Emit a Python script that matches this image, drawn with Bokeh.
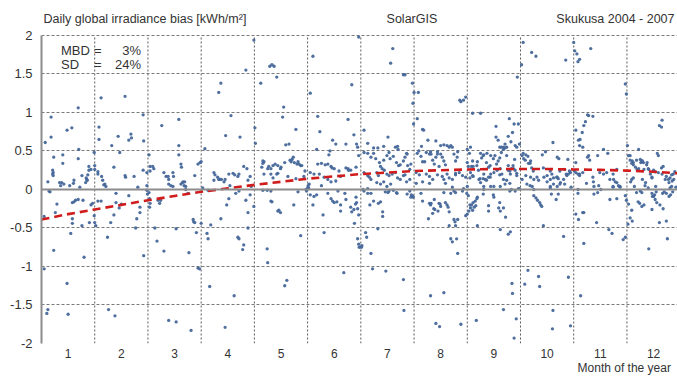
from bokeh.plotting import figure
from bokeh.models import Label, Span, FixedTicker, ColumnDataSource, LinearAxis
from bokeh.embed import file_html
from bokeh.resources import INLINE

# ---------------- data ----------------
month_ticks = [1, 2, 3, 4, 5, 6, 7, 8, 9, 10, 11, 12]
month_labels = ["1", "2", "3", "4", "5", "6", "7", "8", "9", "10", "11", "12"]
month_bounds = [1.5, 2.5, 3.5, 4.5, 5.5, 6.5, 7.5, 8.5, 9.5, 10.5, 11.5]
y_ticks = [-2, -1.5, -1, -0.5, 0, 0.5, 1, 1.5, 2]
y_tick_labels = ["-2", "-1.5", "-1", "-0.5", "0", "0.5", "1", "1.5", "2"]
x_title = "Month of the year"

pts_jan = [(0.57,0.61),(0.68,0.68),(0.68,0.94),(0.73,0.42),(0.71,0.25),(0.71,0.20),(0.62,0.10),(0.90,0.34),(0.90,0.45),(0.86,0.05),(0.92,0.07),(0.98,0.77),(1.07,0.80),(1.19,1.06),(1.19,0.40),(1.03,0.05),(1.10,0.08),(1.26,0.18),(1.35,0.13),(1.37,0.19),(1.43,0.26),(1.49,0.48),
           (0.72,0.22),(0.72,0.18),(0.84,0.09),(0.88,0.09),(1.11,0.12),(1.20,0.52),(1.34,0.15),(1.39,0.30),(1.39,0.25),
           (0.55,-1.03),(0.60,-1.61),(0.62,-1.56),(0.73,-0.79),(0.55,-0.35),(0.79,-0.19),(0.64,-0.02),(1.05,-0.57),(1.08,-0.44),(1.08,-0.17),(1.14,-0.14),(1.22,0.03),(1.26,-0.47),(1.30,-0.88),(1.28,-0.14),(0.98,-1.22),(1.00,-1.62),(1.33,0.09),(1.36,0.12),(1.43,-0.20),(1.46,-0.18),
           (0.66,-0.03),(1.11,-0.16),(1.19,-0.13),(0.76,-0.30),(1.08,-0.38),(1.40,-0.43)]
pts_feb = [(1.50,0.31),(1.50,0.26),(1.56,0.20),(1.56,0.23),(1.62,1.19),(1.58,0.81),(1.58,0.65),(1.63,0.17),(1.65,0.12),(1.69,0.07),(1.82,0.57),(1.86,0.29),(1.94,0.69),(2.07,1.21),(2.14,0.64),(2.18,0.72),(2.19,0.67),(1.97,0.48),(2.07,0.18),(2.08,0.16),(2.24,0.17),(2.41,0.97),(2.42,0.63),(2.31,0.03),(2.41,0.25),(2.48,0.22),
           (1.50,-0.43),(1.52,-0.47),(1.49,-0.34),(1.56,-0.15),(1.62,-0.15),(1.67,0.06),(1.71,0.04),(1.74,-0.62),(1.80,-0.43),(1.86,-0.33),(1.90,-0.05),(1.90,-0.17),(1.96,-0.24),(2.00,-0.19),(2.14,-0.08),(1.76,-1.56),(1.88,-1.64),(2.29,-0.38),(2.35,-0.23),(2.35,-0.30),(2.27,-0.50),(2.42,-0.86),(2.48,0.05),(2.48,-0.01),(2.49,-0.06)]
pts_mar = [(2.52,0.45),(2.54,0.30),(2.54,0.24),(2.59,0.30),(2.61,0.27),(2.76,0.83),(2.80,0.22),(2.84,0.17),(2.88,0.17),(2.89,0.13),(2.97,0.22),(2.98,0.17),(2.93,0.05),(3.08,0.91),(3.08,0.57),(3.08,0.45),(3.12,0.33),(3.13,0.29),(3.16,0.10),(3.19,0.10),(3.21,0.04),(3.38,0.18),(3.44,0.33),(3.48,0.35),
           (2.52,-0.04),(2.53,-0.12),(2.54,-0.18),(2.53,-0.23),(2.63,-0.50),(2.67,-0.67),(2.69,-0.14),(2.72,-0.18),(2.80,-0.80),(2.74,-0.14),(2.89,-1.70),(3.03,-1.72),(2.89,0.07),(2.97,0.04),(3.03,-0.51),(3.12,0.07),(3.15,0.09),(3.18,0.05),(3.21,0.00),(3.25,-0.05),(3.27,-0.82),(3.31,-1.83),(3.35,-0.39),(3.36,-0.42),(3.38,-0.43),(3.41,-0.56),(3.44,-1.02),(3.47,-1.03),(3.50,-0.44)]
pts_apr = [(3.50,0.36),(3.57,0.53),(3.74,0.22),(3.76,0.19),(3.81,0.16),(3.83,0.13),(3.85,0.13),(3.88,0.13),(3.83,1.26),(3.87,1.38),(3.93,0.10),(3.95,0.13),(3.96,0.70),(4.02,0.20),(4.06,0.96),(4.10,0.21),(4.13,0.19),(4.19,0.17),(4.23,0.68),(4.21,0.20),(4.30,0.30),(4.36,0.27),(4.42,0.17),(4.38,0.12),(4.44,0.04),(4.34,1.55),(4.49,1.94),(4.51,0.80),(4.52,0.60),
           (3.53,0.02),(3.63,-0.01),(3.61,-0.57),(3.63,-0.64),(3.66,-1.26),(3.68,-0.46),(3.74,0.12),(3.87,-0.38),(3.95,-1.79),(3.98,-0.20),(4.02,-0.12),(4.04,0.05),(4.12,-1.38),(4.19,-0.62),(4.21,-0.02),(4.15,-0.05),(4.21,-0.64),(4.28,-0.78),(4.30,-0.72),(4.34,-0.14),(4.38,-0.50),(4.38,-0.30),(4.42,-0.07),(4.49,-0.22)]
pts_may = [(4.62,1.38),(4.79,1.60),(4.83,1.62),(4.87,1.60),(4.92,1.46),(5.03,0.94),(5.05,1.07),(5.28,0.78),(5.09,0.58),(5.15,0.59),(4.66,0.37),(4.68,0.36),(4.77,0.30),(4.81,0.27),(4.85,0.31),(4.94,0.31),(5.00,0.29),(4.64,0.29),(4.68,0.20),(5.19,0.36),(5.21,0.39),(5.23,0.42),(5.32,0.36),(5.34,0.33),(5.37,0.31),(5.39,0.31),(4.85,0.15),(4.92,0.20),
           (4.66,0.34),(4.75,0.27),(4.89,0.33),(4.99,0.27),(5.07,0.35),(5.17,0.38),(5.25,0.35),(5.30,0.33),(4.81,0.20),(4.94,0.21),(5.13,0.17),(5.28,0.14),(5.43,0.17),(5.45,0.24),
           (4.66,-0.01),(4.74,-0.01),(4.81,-0.02),(4.83,-0.16),(4.96,-0.27),(4.99,-0.30),(5.24,-0.20),(5.32,-0.03),(4.74,-0.77),(4.75,-0.95),(4.81,-0.15),(4.94,-0.28),(5.07,-1.25),(5.11,-1.18),(5.37,-0.60),(5.47,0.00),(5.48,-0.02),(5.50,0.02)]
pts_jun = [(5.60,1.73),(5.55,1.25),(5.69,0.95),(5.73,0.75),(5.97,0.64),(6.03,0.59),(6.22,0.59),(6.26,0.91),(6.33,1.36),(6.37,0.71),(6.42,0.59),(5.67,0.52),(5.92,0.50),(6.46,1.98),
           (5.69,0.33),(5.76,0.34),(5.83,0.32),(5.88,0.33),(5.94,0.30),(5.96,0.28),(5.90,0.45),(6.00,0.27),(6.09,0.24),(6.12,0.17),(6.22,0.28),(6.26,0.27),(6.27,0.25),(6.31,0.25),(6.41,0.29),(6.44,0.55),(6.46,0.44),(5.55,0.22),(5.62,0.20),(5.72,0.20),(5.81,0.16),(5.88,0.13),(5.94,0.10),(6.03,0.11),(5.53,0.07),(5.52,0.02),(5.51,0.05),
           (5.55,-0.07),(5.62,-0.09),(5.76,0.05),(5.88,-0.05),(5.94,-0.12),(5.97,-0.15),(6.00,-0.17),(6.07,-0.02),(6.12,-0.20),(6.22,-0.13),(6.31,-0.23),(6.33,-0.29),(6.41,-0.10),(6.42,-0.17),(6.44,-0.25),(6.46,-0.33),(6.38,-0.44),
           (5.60,-0.20),(5.67,-0.07),(5.79,-0.33),(5.81,-0.56),(6.05,-0.16),(6.12,-0.28),(6.18,-1.08),(6.20,-0.05),(6.37,-0.26),(6.40,-0.19),(6.44,-0.64),(6.46,-0.71),(6.47,-0.75)]
pts_jul = [(6.56,0.77),(6.63,0.60),(6.74,0.54),(6.82,0.54),(6.93,0.56),(7.01,0.68),(7.06,1.64),(7.10,1.83),(7.19,0.56),(7.20,0.52),(7.30,1.49),(7.33,1.49),(7.37,0.46),
           (6.56,0.48),(6.63,0.47),(6.69,0.42),(6.74,0.47),(6.78,0.40),(6.85,0.35),(6.87,0.30),(6.93,0.38),(6.99,0.44),(7.03,0.48),(7.05,0.40),(7.11,0.43),(7.15,0.55),(7.17,0.35),(7.21,0.31),(7.24,0.32),(7.30,0.37),(7.33,0.42),(7.36,0.47),(7.38,0.31),(7.42,0.26),(7.44,0.33),
           (6.56,0.22),(6.63,0.18),(6.66,0.16),(6.69,0.13),(6.80,0.22),(6.83,0.18),(6.90,0.27),(6.94,0.25),(6.99,0.20),(7.03,0.18),(7.09,0.20),(7.15,0.22),(7.19,0.15),(7.24,0.13),(7.30,0.18),(7.33,0.19),(7.36,0.10),(7.42,0.13),(6.80,0.09),(6.87,0.07),(6.93,0.10),(6.99,0.04),(7.06,0.07),
           (6.56,-0.02),(6.63,-0.05),(6.69,-0.05),(6.74,-0.15),(6.83,-0.18),(6.91,-0.29),(6.96,-0.03),(7.11,-0.01),(7.17,-0.04),(7.42,-0.02),(7.45,-0.07),(7.48,-0.09),
           (6.54,0.00),(6.63,0.01),(6.59,-0.56),(6.61,-0.62),(6.52,-0.73),(6.51,-0.75),(6.67,-0.20),(6.69,-0.83),(6.72,-1.03),(6.82,-0.51),(6.87,-0.16),(6.91,-0.35),(6.97,-1.06),(7.01,-0.04),(7.03,-0.02),(7.18,-0.05),(7.30,-1.17),(7.31,-1.57),(7.37,-0.06)]
pts_aug = [(7.47,1.38),(7.48,1.12),(7.50,1.26),(7.56,0.92),(7.58,1.26),(7.49,0.85),(7.66,0.78),(7.68,0.77),(7.76,0.64),(7.91,0.63),(8.00,0.57),(8.06,0.58),(8.12,0.57),(8.19,0.57),(7.64,0.56),(7.81,0.49),(7.94,0.49),(8.32,0.49),(8.36,1.16),(8.38,1.14),(8.43,1.16),(8.47,1.20),
           (7.56,0.47),(7.59,0.50),(7.63,0.43),(7.66,0.36),(7.70,0.36),(7.73,0.48),(7.79,0.46),(7.82,0.46),(7.85,0.38),(7.88,0.33),(7.91,0.42),(7.94,0.46),(7.97,0.30),(8.00,0.46),(8.03,0.42),(8.06,0.37),(8.09,0.32),(8.16,0.55),(8.22,0.55),(8.25,0.46),(8.28,0.37),(8.31,0.42),
           (7.54,0.22),(7.60,0.19),(7.73,0.20),(7.79,0.17),(7.85,0.13),(7.94,0.19),(8.03,0.17),(8.06,0.13),(8.12,0.20),(8.16,0.15),(8.22,0.13),(8.28,0.19),(7.54,0.08),(7.66,0.10),(7.79,0.08),(8.09,0.08),(8.28,0.21),(8.35,0.22),(8.41,0.18),(8.47,0.16),
           (7.63,-0.05),(7.66,-0.15),(7.79,-0.18),(7.82,-0.18),(7.85,-0.31),(7.88,-0.13),(7.97,-0.18),(8.00,-0.22),(8.09,-0.17),(8.12,-0.20),(8.16,-0.29),(8.25,-0.02),(8.28,-0.04),
           (7.44,-0.10),(7.48,-0.10),(7.77,-0.38),(7.81,-0.20),(7.87,-0.25),(7.89,-0.26),(7.95,-0.28),(7.99,-0.19),(8.06,-0.04),(8.14,-0.23),(8.16,-0.47),(8.19,-0.64),(8.22,-0.68),(8.25,-0.39),(8.28,-0.47),(8.32,-0.39),(7.81,-1.38),(7.91,-1.74),(7.98,-1.78),(8.06,-1.34),(8.19,-0.05),(8.22,0.03),
           (8.27,-0.42),(8.30,-0.64),(8.32,-0.83),(8.38,-1.75),(8.41,-0.02),(8.43,0.01)]
pts_sep = [(8.50,0.52),(8.56,0.55),(8.60,0.99),(8.75,0.99),(8.54,0.47),(8.50,0.35),(8.60,0.37),(8.69,0.36),(8.81,0.45),(8.87,0.47),(8.94,0.44),(8.75,0.47),(9.04,0.82),(9.04,0.68),(9.08,0.64),(9.11,0.55),(9.14,0.55),(9.18,0.55),(9.21,0.59),(9.24,0.55),(9.27,0.69),(9.29,0.92),(9.32,0.62),(9.35,0.74),(9.38,0.85),(9.40,0.57),(9.43,0.55),(9.46,0.85),(9.44,1.46),(9.48,0.59),
           (8.56,0.22),(8.60,0.18),(8.72,0.13),(8.75,0.09),(8.81,0.20),(8.84,0.13),(8.90,0.16),(8.94,0.20),(9.00,0.22),(9.06,0.25),(9.12,0.27),(9.15,0.20),(9.18,0.13),(9.21,0.07),(9.27,0.25),(9.31,0.20),(9.37,0.27),(9.40,0.25),(9.43,0.18),(9.12,0.04),(9.00,0.04),(8.94,0.04),(8.81,0.04),(8.50,0.04),
           (8.52,0.30),(8.58,0.30),(8.61,0.30),(8.68,0.31),(8.71,0.25),(8.77,0.41),(8.80,0.44),(8.86,0.35),(8.90,0.29),(8.93,0.31),(8.99,0.40),(9.02,0.44),(9.05,0.33),(9.08,0.37),(9.11,0.41),(9.14,0.48),(9.18,0.52),(9.21,0.54),(9.24,0.44),(9.27,0.31),(9.30,0.24),(9.33,0.27),(9.36,0.31),(9.39,0.39),(9.43,0.21),(8.55,0.15),(8.61,0.17),(8.74,0.14),(8.80,0.14),(8.86,0.12),(8.93,0.16),(9.11,0.19),(9.24,0.12),(9.30,0.08),
           (8.49,-0.05),(8.52,-0.08),(8.55,-0.20),(8.58,-0.20),(8.61,-0.17),(8.65,-0.15),(8.68,-0.12),(8.80,-0.06),(8.99,-0.07),(9.11,-0.17),(9.18,-0.24),(9.30,-0.02),(9.33,0.00),(9.40,-0.02),(8.90,-0.21),
           (8.47,-0.34),(8.50,-0.32),(8.53,-0.28),(8.56,-0.24),(8.60,-0.27),(8.63,-0.23),(8.66,-0.21),(8.69,-0.10),(8.69,-0.47),(8.67,-1.70),(8.81,0.00),(8.90,-0.28),(9.00,-0.10),(9.09,-0.24),(9.12,-0.28),(9.12,-0.52),(9.22,-0.36),(9.27,-0.58),(9.31,-0.55),(9.18,-1.56),(9.34,-1.22),(9.35,-1.35),(9.38,-1.93),(9.42,-1.68),(9.46,0.01)]
pts_oct = [(9.52,1.62),(9.55,1.91),(9.71,1.78),(9.79,1.73),(9.55,0.47),(9.60,0.45),(9.64,0.43),(9.69,0.37),(9.91,0.45),(9.97,0.49),(10.11,0.61),(10.19,0.42),(10.22,0.40),(10.35,1.68),
           (9.53,0.13),(9.60,0.18),(9.69,0.16),(9.75,0.13),(9.81,0.16),(9.94,0.16),(10.00,0.18),(10.06,0.13),(10.12,0.15),(10.19,0.16),(10.25,0.09),(10.31,0.13),(10.37,0.18),(10.40,0.20),(10.44,0.22),(9.72,0.04),(10.06,0.04),(10.19,0.04),
           (9.48,0.01),(9.64,-1.05),(9.58,-1.23),(9.75,0.00),(9.75,-0.08),(9.79,-0.11),(9.82,-0.14),(9.86,-0.17),(9.88,-0.20),(9.90,-0.22),(9.93,-0.47),(9.84,-1.13),(9.86,-1.26),(10.06,0.02),(10.08,-0.06),(10.17,-0.13),(10.21,-0.06),(10.24,0.07),(10.33,0.07),(10.31,-0.61),(10.11,-1.57),(10.10,-1.81),(10.40,-1.14),(10.44,-1.77),(10.45,0.03),
           (9.53,0.44),(9.56,0.40),(9.59,0.38),(9.65,0.34),(9.68,0.34),(9.71,0.28),(9.74,0.24),(9.93,0.28),(10.06,0.24),(10.09,0.20),(10.18,0.16),(10.21,0.14),(10.24,0.24),(10.33,0.26),(10.36,0.20),(10.39,0.39),(10.42,0.24),(9.84,0.12),(9.62,0.07),(9.68,0.05),(10.00,0.10),(10.12,0.07)]
pts_nov = [(10.50,1.91),(10.52,1.80),(10.56,1.76),(10.58,1.66),(10.61,1.69),(10.82,1.83),(10.54,0.77),(10.59,0.64),(10.62,0.65),(10.66,0.74),(10.69,0.83),(10.72,0.88),(10.76,0.97),(10.78,0.96),(10.86,0.95),(10.61,0.57),(10.67,0.55),(10.78,0.44),(10.76,0.42),(10.80,0.38),(10.95,0.44),(11.06,0.52),(11.14,0.47),(10.54,0.35),(10.58,0.20),(10.61,0.18),(10.67,0.22),(10.86,0.16),(10.99,0.22),(11.12,0.22),(11.24,0.20),(11.18,0.13),(11.31,0.09),(11.37,0.04),(11.24,0.04),(10.88,0.04),
           (10.54,-0.32),(10.59,-0.39),(10.67,-0.30),(10.69,-0.30),(10.69,-0.70),(10.63,-1.38),(10.58,-0.05),(10.58,0.00),(10.88,-0.06),(10.95,-0.04),(10.93,-0.43),(11.01,0.00),(11.16,-0.52),(11.22,-0.57),(11.18,-0.13),(11.31,-0.12),(11.24,0.03),(11.34,0.05),(11.37,0.03),(11.43,-0.65),(11.47,-0.62),
           (10.51,0.24),(10.54,0.22),(10.61,0.20),(10.74,0.08),(10.87,0.10),(10.97,0.05),(11.06,0.20),(11.25,0.13),(11.28,0.10),(11.31,0.26)]
pts_dec = [(11.47,1.37),(11.49,1.24),(11.51,0.57),(11.56,0.44),(11.60,0.37),(11.62,0.35),(11.68,0.38),(11.72,0.52),(11.76,0.35),(11.79,0.37),(11.82,0.26),(11.88,0.35),(11.91,0.26),(11.97,0.16),(12.07,0.47),(12.09,0.44),(12.11,0.83),(12.15,0.81),(12.16,0.90),(12.16,0.20),(12.22,0.13),(12.29,0.09),(12.35,0.11),(12.38,0.13),(11.57,0.10),(11.64,0.04),(11.79,0.13),(11.85,0.09),(12.04,0.04),
           (11.53,0.44),(11.56,0.38),(11.59,0.34),(11.62,0.32),(11.66,0.29),(11.69,0.26),(11.72,0.27),(11.75,0.39),(11.78,0.37),(11.81,0.35),(11.87,0.32),(11.90,0.27),(11.94,0.20),(11.97,0.15),(12.00,0.25),(12.03,0.23),(12.09,0.22),(12.15,0.28),(12.18,0.30),(12.24,0.17),(12.28,0.13),(12.31,0.15),(12.34,0.19),(12.37,0.20),(12.40,0.23),(11.59,0.13),(11.62,0.15),
           (11.68,-0.04),(11.75,-0.02),(11.78,-0.04),(11.84,0.05),(11.90,0.02),(11.97,-0.05),(12.00,-0.09),(12.03,-0.13),(12.06,-0.17),(12.12,-0.20),(12.18,-0.25),(12.24,-0.05),(12.31,0.02),(12.34,0.04),(11.53,-0.19),(11.59,-0.27),(11.56,-0.37),
           (11.47,-0.08),(11.49,-0.14),(11.52,-0.45),(11.60,-0.41),(11.71,-0.16),(11.74,-0.18),(11.78,-0.22),(11.82,-0.20),(11.91,-0.77),(11.97,-0.26),(11.98,-0.09),(12.02,-0.07),(12.05,-0.03),(12.11,-0.43),(12.17,-0.05),(12.20,-0.03),(12.24,-0.41),(12.26,-0.64),(12.29,-0.09),(12.32,-0.07),(12.36,-0.03),(12.42,0.03)]

trend_x = [0.5, 1, 1.5, 2, 2.5, 3, 3.5, 4, 4.5, 5, 5.5, 6, 6.5, 7, 7.5, 8, 8.5, 9, 9.5, 10, 10.5, 11, 11.5, 12, 12.45]
trend_y = [-0.39, -0.32, -0.26, -0.20, -0.14, -0.085, -0.03, 0.015, 0.06, 0.10, 0.14, 0.17, 0.20, 0.22, 0.24, 0.25, 0.26, 0.265, 0.265, 0.265, 0.26, 0.255, 0.245, 0.23, 0.21]

# ---------------- figure ----------------
FONT = "Liberation Sans"
TXT = "#333333"
Y_LO, Y_HI = -2, 2          # plotted value range
Y_TOP = 2.454               # headroom above the value box for the header texts
X_LO, X_HI = 0.5, 12.45
X_TITLE_POS = 11.45         # centre of the right-hand x-axis title

all_pts = pts_jan + pts_feb + pts_mar + pts_apr + pts_may + pts_jun + pts_jul + pts_aug + pts_sep + pts_oct + pts_nov + pts_dec
src = ColumnDataSource(data=dict(x=[a for a, b in all_pts], y=[b for a, b in all_pts]))

p = figure(width=677, height=377, x_range=(X_LO, X_HI), y_range=(Y_LO, Y_TOP),
           output_backend="svg", toolbar_location=None,
           min_border_left=41, min_border_right=0, min_border_top=0, min_border_bottom=33)
p.outline_line_color = None
p.background_fill_color = "white"
p.border_fill_color = "white"

# horizontal grid
p.ygrid.ticker = FixedTicker(ticks=y_ticks)
p.ygrid.grid_line_color = "#7a7a7a"
p.ygrid.grid_line_dash = "3 2"
p.ygrid.grid_line_width = 1
# vertical month separators, limited to the value box
p.xgrid.visible = False
p.segment(x0=month_bounds, y0=[Y_LO] * len(month_bounds), x1=month_bounds, y1=[Y_HI] * len(month_bounds),
          line_color="#5a5a5a", line_dash="2 2", line_width=1, level="underlay")

# axes
p.xaxis.ticker = FixedTicker(ticks=month_ticks)
p.xaxis.major_label_overrides = {t: l for t, l in zip(month_ticks, month_labels)}
p.xaxis.axis_line_color = None
p.xaxis.major_tick_line_color = None
p.xaxis.minor_tick_line_color = None
p.xaxis.major_tick_in = 0
p.xaxis.major_tick_out = 0
p.xaxis.major_label_standoff = 5
p.xaxis.major_label_text_font = FONT
p.xaxis.major_label_text_font_size = "12px"
p.xaxis.major_label_text_color = TXT

p.yaxis.ticker = FixedTicker(ticks=y_ticks)
p.yaxis.bounds = (Y_LO, Y_HI)
p.yaxis.major_label_overrides = {t: l for t, l in zip(y_ticks, y_tick_labels)}
p.yaxis.axis_line_color = "#8c8c8c"
p.yaxis.axis_line_width = 2
p.yaxis.major_tick_line_color = None
p.yaxis.minor_tick_line_color = None
p.yaxis.major_tick_in = 0
p.yaxis.major_tick_out = 0
p.yaxis.major_label_standoff = 9
p.yaxis.major_label_text_font = FONT
p.yaxis.major_label_text_font_size = "13px"
p.yaxis.major_label_text_color = TXT

# second bottom axis carrying the right-aligned x title
ax2 = LinearAxis(ticker=FixedTicker(ticks=[X_TITLE_POS]),
                 major_label_overrides={X_TITLE_POS: x_title},
                 axis_line_color=None, major_tick_line_color=None, minor_tick_line_color=None,
                 major_tick_in=0, major_tick_out=0, major_label_standoff=0,
                 major_label_text_font=FONT, major_label_text_font_size="12px",
                 major_label_text_color=TXT)
p.add_layout(ax2, "below")

# zero line
p.add_layout(Span(location=0, dimension="width", line_color="#8c8c8c", line_width=2))

# points
p.scatter(x="x", y="y", source=src, size=3.3, marker="circle",
          fill_color="#46679a", line_color=None, fill_alpha=0.95)

# trend
p.line(trend_x, trend_y, line_color="#d01c1c", line_width=2.6, line_dash="8 5")

# texts
def lab(x, y, text, align="left", xo=0, yo=0, size="12.5px"):
    p.add_layout(Label(x=x, y=y, x_offset=xo, y_offset=yo, text=text,
                       text_align=align, text_baseline="middle",
                       text_font=FONT, text_font_size=size, text_color=TXT))

lab(X_LO, 2.22, "Daily global irradiance bias [kWh/m\u00b2]", "left", xo=2)
lab(7.46, 2.22, "SolarGIS", "center")
lab(X_HI, 2.22, "Skukusa 2004 - 2007", "right", xo=-3)
lab(0.866, 1.81, "MBD", "left", size="13px")
lab(1.486, 1.81, "=", "left", size="13px")
lab(2.37, 1.81, "3%", "right", size="13px")
lab(0.866, 1.62, "SD", "left", size="13px")
lab(1.486, 1.62, "=", "left", size="13px")
lab(2.37, 1.62, "24%", "right", size="13px")

open("out.html", "w").write(file_html(p, INLINE))
